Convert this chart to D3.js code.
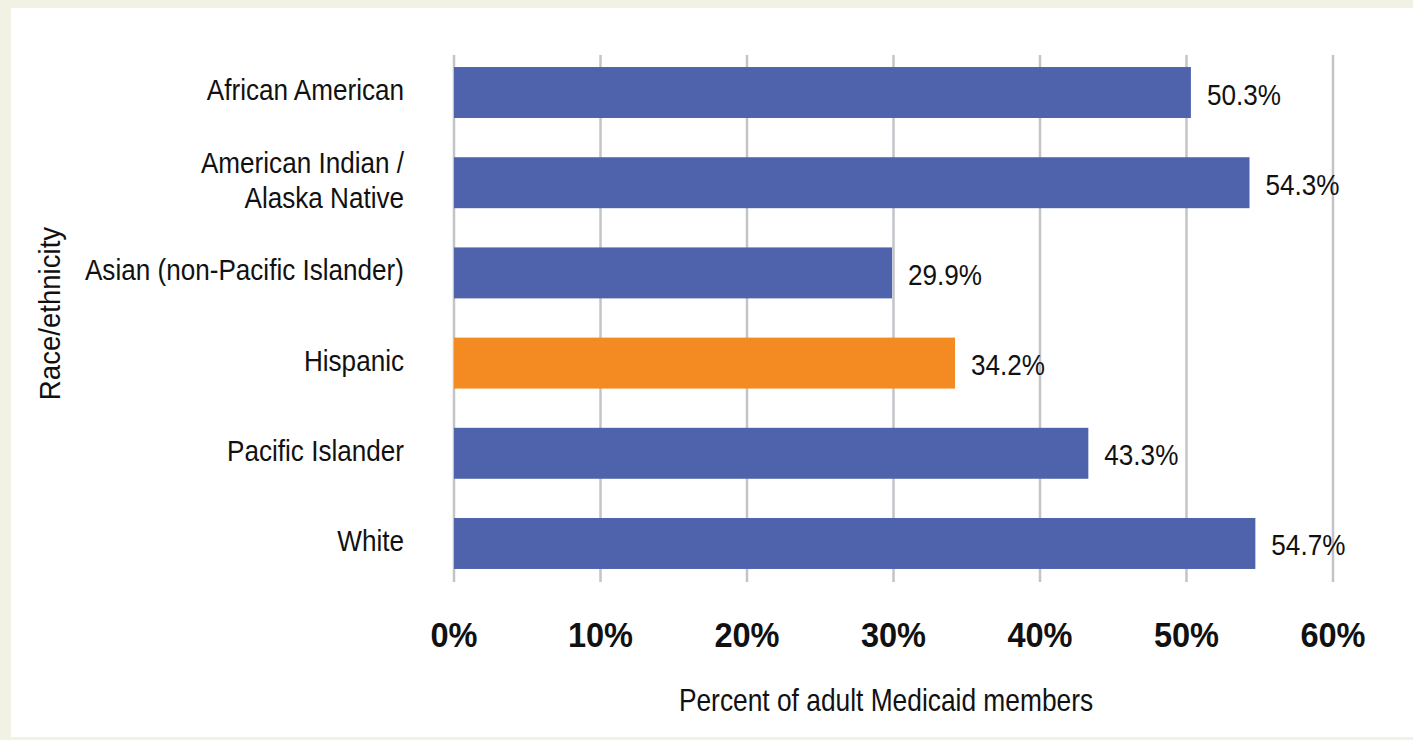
<!DOCTYPE html>
<html><head><meta charset="utf-8">
<script src="https://cdn.jsdelivr.net/npm/d3@7"></script>
<style>
html,body{margin:0;padding:0;background:#f1f2e4;}
svg{display:block;}
text{font-family:"Liberation Sans",Arial,sans-serif;fill:#111;}
</style></head>
<body><svg id="c" width="1413" height="740"></svg>
<script>
const categories = [["African American"],["American Indian /","Alaska Native"],["Asian (non-Pacific Islander)"],["Hispanic"],["Pacific Islander"],["White"]];
const values = [0.503, 0.543, 0.299, 0.342, 0.433, 0.547];
const valueLabels = ["50.3%","54.3%","29.9%","34.2%","43.3%","54.7%"];
const highlight = [false,false,false,true,false,false];
const tickValues = [0,0.1,0.2,0.3,0.4,0.5,0.6];
const xTitle = "Percent of adult Medicaid members";
const yTitle = "Race/ethnicity";

const svg = d3.select("#c");
svg.append("rect").attr("x",0).attr("y",0).attr("width",1413).attr("height",740).attr("fill","#f1f2e4");
svg.append("rect").attr("x",11).attr("y",8).attr("width",1402).attr("height",729).attr("fill","#fff");

const keys = categories.map((c,i)=>i);
const x = d3.scaleLinear().domain([0,0.6]).range([454,1333]);
const y = d3.scaleBand().domain(keys).range([27.8,608.2]).padding(0.435);
const cy = i => y(i)+y.bandwidth()/2;

// place text at (px,py) with horizontal condensing
function place(sel, fx, fy, sx, rot){
  sel.attr("transform",(d,i)=>`translate(${fx(d,i)},${fy(d,i)})${rot?" rotate("+rot+")":""} scale(${sx},1)`);
}

// gridlines
svg.append("g").selectAll("line").data(tickValues).join("line")
  .attr("x1",d=>x(d)).attr("x2",d=>x(d)).attr("y1",55).attr("y2",582)
  .attr("stroke","#c3c4c8").attr("stroke-width",2.5);

// bars
svg.append("g").selectAll("rect").data(keys).join("rect")
  .attr("x",x(0)).attr("y",i=>y(i)).attr("width",i=>x(values[i])-x(0)).attr("height",y.bandwidth())
  .attr("fill",i=>highlight[i]?"#f38b22":"#4f63ad");

// value labels
const vl = svg.append("g").selectAll("text").data(keys).join("text")
  .attr("font-size",30).text(i=>valueLabels[i]);
place(vl, i=>x(values[i])+16, i=>cy(i)+12, 0.87);

// category labels
const cl = svg.append("g").selectAll("text").data(keys).join("text")
  .attr("text-anchor","end").attr("font-size",29);
cl.each(function(i){
  const t=d3.select(this);
  categories[i].forEach((line,k)=>t.append("tspan").attr("x",0).attr("dy",k?35:0).text(line));
});
place(cl, ()=>404, i=>cy(i)+7.5-(categories[i].length-1)*17.5, 0.9);

// x tick labels
const tl = svg.append("g").selectAll("text").data(tickValues).join("text")
  .attr("text-anchor","middle").attr("font-size",35).attr("font-weight","bold").text(d=>d3.format(".0%")(d));
place(tl, d=>x(d), ()=>647, 0.93);

const xt = svg.append("text").attr("text-anchor","middle").attr("font-size",31).text(xTitle);
place(xt, ()=>886, ()=>711, 0.85);
const yt = svg.append("text").attr("text-anchor","middle").attr("font-size",30).text(yTitle);
place(yt, ()=>60, ()=>313.5, 0.92, -90);
</script></body></html>
